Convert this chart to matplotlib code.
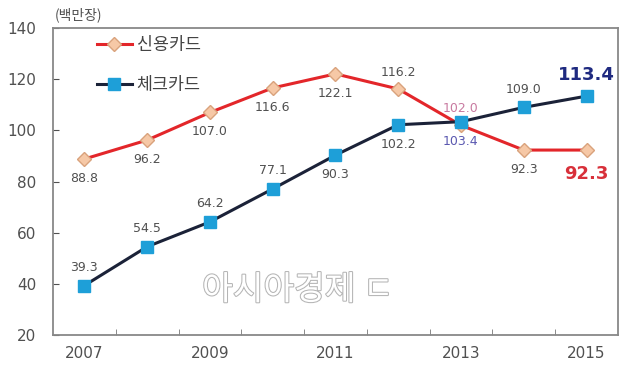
import numpy as np
import matplotlib
matplotlib.use('Agg')
from matplotlib import pyplot as plt
import matplotlib.patheffects as pe

plt.rcParams['font.family'] = ['Noto Sans CJK KR', 'DejaVu Sans']

years = [2007, 2008, 2009, 2010, 2011, 2012, 2013, 2014, 2015]
credit = [88.8, 96.2, 107.0, 116.6, 122.1, 116.2, 102.0, 92.3, 92.3]
check = [39.3, 54.5, 64.2, 77.1, 90.3, 102.2, 103.4, 109.0, 113.4]
credit_labels = ['88.8', '96.2', '107.0', '116.6', '122.1', '116.2', '102.0', '92.3', '92.3']
check_labels = ['39.3', '54.5', '64.2', '77.1', '90.3', '102.2', '103.4', '109.0', '113.4']
# label placement: 1 above, -1 below
credit_pos = [-1, -1, -1, -1, -1, 1, 1, -1, -1]
check_pos = [1, 1, 1, 1, -1, -1, -1, 1, 1]

red = '#e3262a'
navy = '#1b2238'
txt = '#505050'

fig = plt.figure(figsize=(6.34, 3.75), dpi=100)
ax = fig.add_axes([0.0836, 0.107, 0.891, 0.818])

ax.plot(years, credit, color=red, lw=2.2, marker='D', ms=7,
        mfc='#f6c8a6', mec='#d9a27c', mew=1, label='신용카드', zorder=3)
ax.plot(years, check, color=navy, lw=2.2, marker='s', ms=8,
        mfc='#1e9fd8', mec='#1e9fd8', label='체크카드', zorder=4)

for i, (x, y) in enumerate(zip(years, credit)):
    c = txt
    fs = 9
    fw = 'normal'
    if i == 6:
        c = '#c87aa0'
    if i == 8:
        c = '#d8303a'
        fs = 13
        fw = 'bold'
    off = 12 if credit_pos[i] > 0 else -14
    if i == 8:
        off = -17
    ax.annotate(credit_labels[i], (x, y), xytext=(0, off), textcoords='offset points',
                ha='center', va='center', fontsize=fs, color=c, fontweight=fw,
                family=['DejaVu Sans'])

for i, (x, y) in enumerate(zip(years, check)):
    c = txt
    fs = 9
    fw = 'normal'
    if i == 6:
        c = '#5a58b0'
    if i == 8:
        c = '#1f2a80'
        fs = 13
        fw = 'bold'
    off = 13 if check_pos[i] > 0 else -14
    if i == 8:
        off = 15
    ax.annotate(check_labels[i], (x, y), xytext=(0, off), textcoords='offset points',
                ha='center', va='center', fontsize=fs, color=c, fontweight=fw,
                family=['DejaVu Sans'])

ax.set_xlim(2006.5, 2015.5)
ax.set_ylim(20, 140)
ax.set_yticks(np.arange(20, 141, 20))
ax.set_xticks([2007, 2009, 2011, 2013, 2015])
ax.set_xticks(np.arange(2007.5, 2015.5, 1), minor=True)
ax.tick_params(axis='x', which='major', length=0, labelsize=11, colors=txt, pad=8)
ax.tick_params(axis='x', which='minor', length=4, direction='in', color='#777777')
ax.tick_params(axis='y', length=4, direction='in', labelsize=11, colors=txt, pad=12)
for lab in ax.get_xticklabels() + ax.get_yticklabels():
    lab.set_family(['DejaVu Sans'])
for s in ax.spines.values():
    s.set_color('#888888')
    s.set_linewidth(1.3)

fig.text(0.087, 0.96, '(백만장)', fontsize=10, color=txt, va='center')

ax.legend(loc='upper left', bbox_to_anchor=(0.05, 1.025), frameon=False,
          fontsize=12.5, handlelength=2.0, labelspacing=1.25,
          handletextpad=0.3)
leg = ax.get_legend()
for t in leg.get_texts():
    t.set_color('#444444')

ax.text(2010.4, 37.5, '아시아경제 ㄷ', fontsize=24, color='white', ha='center', va='center',
        path_effects=[pe.withStroke(linewidth=1.5, foreground='#b5b5b5')], zorder=1)

fig.savefig('out.png', dpi=100)
